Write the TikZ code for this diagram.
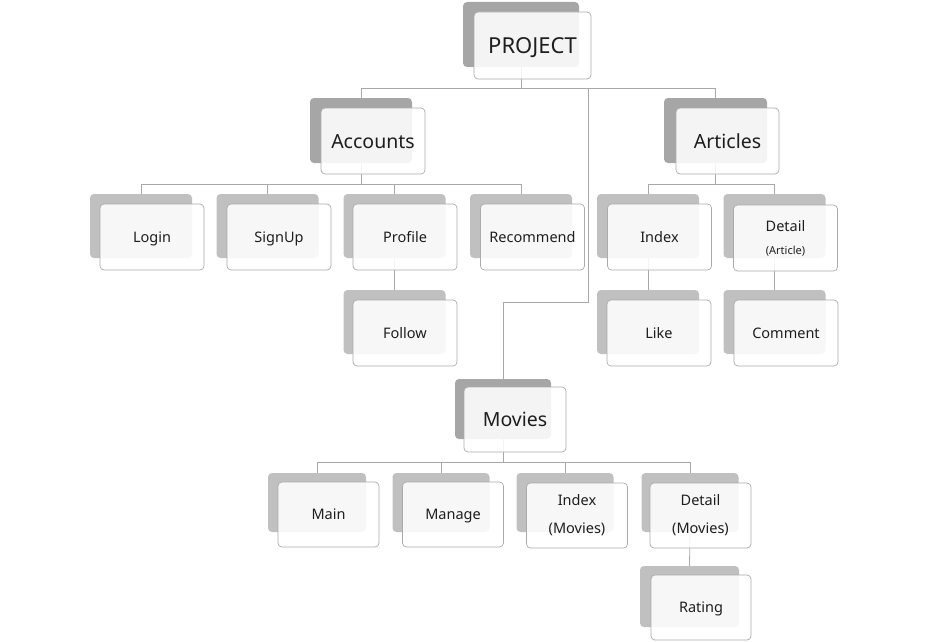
\documentclass[tikz,border=0pt]{standalone}
\usepackage{fontspec}
\setmainfont{Noto Sans}
\usetikzlibrary{backgrounds,calc}
\definecolor{backdark}{HTML}{A6A6A6}
\definecolor{backlight}{HTML}{C0C0C0}
\definecolor{frontline}{HTML}{ABABAB}
\definecolor{connline}{HTML}{A8A8A8}
\definecolor{txt}{HTML}{1E1E1E}
\tikzset{
  backtop/.style={fill=backdark, draw=none, rounded corners=4pt, inner sep=0pt},
  backleaf/.style={fill=backlight, draw=none, rounded corners=4pt, inner sep=0pt},
  frontbox/.style={fill=white, fill opacity=0.88, text opacity=1, draw=frontline, line width=0.7pt,
    rounded corners=4pt, inner sep=0pt, align=center, text=txt},
  topfont/.style={font=\fontsize{19.5}{23}\selectfont, text height=14pt, text depth=0pt},
  leaffont/.style={font=\fontsize{14.5}{28}\selectfont},
  oneline/.style={text height=11pt, text depth=1pt},
  conn/.style={draw=connline, line width=0.8pt},
}
\begin{document}
\begin{tikzpicture}[x=1pt,y=-1pt]
\useasboundingbox (0,0) rectangle (926,642);
% PROJECT
\node[backtop, minimum width=116pt, minimum height=65pt] (bP) at (521,34.5) {};
\node[frontbox, topfont, font=\fontsize{22}{26}\selectfont, text height=16pt, minimum width=117pt, minimum height=67pt] (P) at (532.5,45.5) {PROJECT};
% Accounts
\node[backtop, minimum width=102pt, minimum height=65pt] (bAcc) at (361,130.5) {};
\node[frontbox, topfont, minimum width=104pt, minimum height=66pt] (Acc) at (373,141) {Accounts};
% Articles
\node[backtop, minimum width=103pt, minimum height=65pt] (bArt) at (715.5,130.5) {};
\node[frontbox, topfont, minimum width=103pt, minimum height=66pt] (Art) at (727.5,141) {Articles};
% Movies
\node[backtop, minimum width=96pt, minimum height=60pt] (bMov) at (503,409) {};
\node[frontbox, topfont, minimum width=102pt, minimum height=65pt] (Mov) at (515,419.5) {Movies};
% Accounts leaves
\node[backleaf, minimum width=102pt, minimum height=64pt] (bLogin) at (141,226) {};
\node[frontbox, leaffont, oneline, minimum width=104pt, minimum height=66pt] (Login) at (152,237) {Login};
\node[backleaf, minimum width=102pt, minimum height=64pt] (bSign) at (267.5,226) {};
\node[frontbox, leaffont, oneline, minimum width=104pt, minimum height=66pt] (Sign) at (279,237) {SignUp};
\node[backleaf, minimum width=102pt, minimum height=64pt] (bProf) at (394.5,226) {};
\node[frontbox, leaffont, oneline, minimum width=104pt, minimum height=66pt] (Prof) at (405,237) {Profile};
\node[backleaf, minimum width=102pt, minimum height=64pt] (bRec) at (521,226) {};
\node[frontbox, leaffont, oneline, minimum width=104pt, minimum height=66pt] (Rec) at (532.5,237) {Recommend};
\node[backleaf, minimum width=102pt, minimum height=64pt] (bFol) at (394.5,322) {};
\node[frontbox, leaffont, oneline, minimum width=104pt, minimum height=66pt] (Fol) at (405,333) {Follow};
% Articles leaves
\node[backleaf, minimum width=102pt, minimum height=64pt] (bIdxA) at (648,226) {};
\node[frontbox, leaffont, oneline, minimum width=104pt, minimum height=66pt] (IdxA) at (659.5,237) {Index};
\node[backleaf, minimum width=102pt, minimum height=64pt] (bDetA) at (774.5,226) {};
\node[frontbox, leaffont, minimum width=104pt, minimum height=66pt] (DetA) at (785.5,238)
  {Detail\\[-5pt]{\fontsize{11}{13}\selectfont (Article)}};
\node[backleaf, minimum width=102pt, minimum height=64pt] (bLike) at (648,322) {};
\node[frontbox, leaffont, oneline, minimum width=104pt, minimum height=66pt] (Like) at (659,333) {Like};
\node[backleaf, minimum width=102pt, minimum height=64pt] (bCom) at (774.5,322) {};
\node[frontbox, leaffont, oneline, minimum width=104pt, minimum height=66pt] (Com) at (786,333) {Comment};
% Movies leaves
\node[backleaf, minimum width=98pt, minimum height=59pt] (bMain) at (317,502.5) {};
\node[frontbox, leaffont, oneline, minimum width=101pt, minimum height=65pt] (Main) at (328.5,514.5) {Main};
\node[backleaf, minimum width=97pt, minimum height=59pt] (bMan) at (441,502.5) {};
\node[frontbox, leaffont, oneline, minimum width=101pt, minimum height=65pt] (Man) at (453,514.5) {Manage};
\node[backleaf, minimum width=97pt, minimum height=59pt] (bIdxM) at (565,502.5) {};
\node[frontbox, leaffont, minimum width=101pt, minimum height=65pt] (IdxM) at (577,515.5) {Index\\(Movies)};
\node[backleaf, minimum width=97pt, minimum height=59pt] (bDetM) at (690,502.5) {};
\node[frontbox, leaffont, minimum width=101pt, minimum height=65pt] (DetM) at (700.5,515.5) {Detail\\(Movies)};
\node[backleaf, minimum width=99pt, minimum height=61pt] (bRat) at (689.5,596.5) {};
\node[frontbox, leaffont, oneline, minimum width=100pt, minimum height=65pt] (Rat) at (701,607.5) {Rating};
% connectors
\begin{pgfonlayer}{background}
\draw[conn] (bP.south) -- ++(0,21) -| (bAcc.north);
\draw[conn] (bP.south) -- ++(0,21) -| (bArt.north);
\coordinate (mvtap) at ($(bP.south)+(67,21)$);
\draw[conn] (mvtap) -- ++(0,214) -| (bMov.north);
\foreach \c in {bLogin,bSign,bProf,bRec}
  \draw[conn] (bAcc.south) -- ++(0,21) -| (\c.north);
\foreach \c in {bIdxA,bDetA}
  \draw[conn] (bArt.south) -- ++(0,21) -| (\c.north);
\draw[conn] (bProf.south) -- (bFol.north);
\draw[conn] (bIdxA.south) -- (bLike.north);
\draw[conn] (bDetA.south) -- (bCom.north);
\foreach \c in {bMain,bMan,bIdxM,bDetM}
  \draw[conn] (bMov.south) -- ++(0,23) -| (\c.north);
\draw[conn] (bDetM.south) -- (bRat.north);
\end{pgfonlayer}
\end{tikzpicture}
\end{document}
